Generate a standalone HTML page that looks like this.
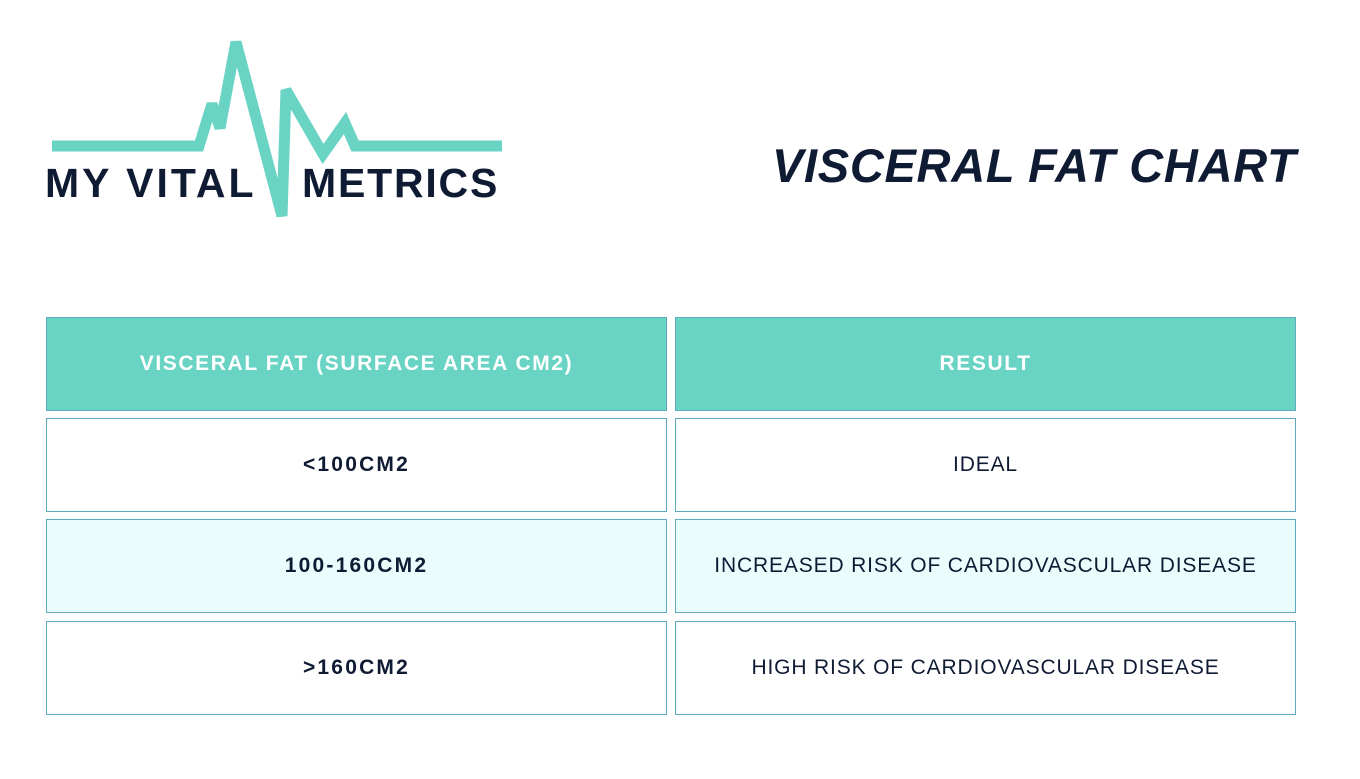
<!DOCTYPE html>
<html><head><meta charset="utf-8"><style>
body{margin:0;width:1360px;height:779px;background:#fff;position:relative;overflow:hidden;font-family:"Liberation Sans",sans-serif;color:#0f1a33}
.logo-text{position:absolute;top:160px;font-size:41px;font-weight:bold;letter-spacing:3px;color:#0f1a33}
#title{position:absolute;left:772px;top:138px;font-size:47px;font-weight:bold;font-style:italic;letter-spacing:0.7px;white-space:nowrap}
.cell{position:absolute;box-sizing:border-box;border:1.5px solid #5fa9bf;display:flex;align-items:center;justify-content:center;font-size:21px;letter-spacing:0.85px}
.h{background:#69d3c4;color:#fff;font-weight:bold;letter-spacing:1.6px}
.l{left:46px;width:621px}.r{left:675px;width:621px}
.b{font-weight:bold;letter-spacing:2.2px}
.alt{background:#eafdfd}
</style></head><body>
<svg style="position:absolute;left:0;top:0" width="520" height="230">
<polyline points="52,146 199,146 212,104 220,128 236,42 282,216 286,90 323,154 345,123 355,146 502,146" fill="none" stroke="#69d3c4" stroke-width="11" stroke-linejoin="miter" stroke-miterlimit="3"/>
</svg>
<div class="logo-text" style="left:45px">MY VITAL</div>
<div class="logo-text" style="left:302px;letter-spacing:1.8px">METRICS</div>
<div id="title">VISCERAL FAT CHART</div>
<div class="cell h l" style="top:317px;height:94px">VISCERAL FAT (SURFACE AREA CM2)</div>
<div class="cell h r" style="top:317px;height:94px">RESULT</div>
<div class="cell l b" style="top:418px;height:94px">&lt;100CM2</div>
<div class="cell r" style="top:418px;height:94px">IDEAL</div>
<div class="cell l b alt" style="top:519px;height:94px">100-160CM2</div>
<div class="cell r alt" style="top:519px;height:94px">INCREASED RISK OF CARDIOVASCULAR DISEASE</div>
<div class="cell l b" style="top:621px;height:94px">&gt;160CM2</div>
<div class="cell r" style="top:621px;height:94px">HIGH RISK OF CARDIOVASCULAR DISEASE</div>
</body></html>
